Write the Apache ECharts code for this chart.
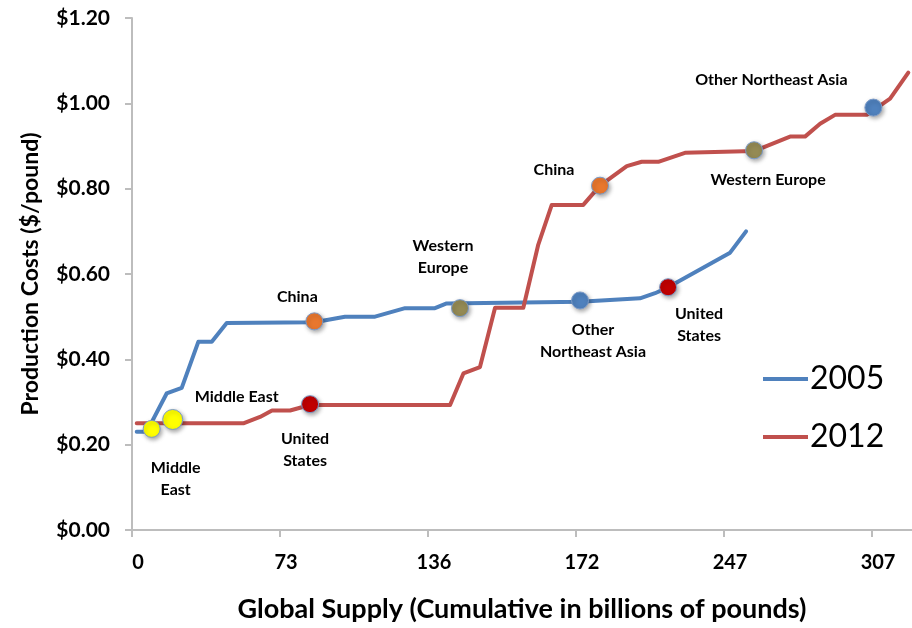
<!DOCTYPE html>
<html>
<head>
<meta charset="utf-8">
<script src="https://cdn.jsdelivr.net/npm/echarts@6/dist/echarts.min.js"></script>
<style>
  html, body { margin: 0; padding: 0; background: #ffffff; }
  #chart { width: 912px; height: 628px; }
</style>
</head>
<body>
<div id="chart"></div>
<script>
// Tick labels of the supply axis (one per tick step)
const xTickLabels = ['0', '73', '136', '172', '247', '307'];

// 2005 cost curve: position along the supply axis (tick steps) and cost ($/lb)
const pos2005  = [0.032, 0.099, 0.234, 0.336, 0.448, 0.539, 0.640, 1.232, 1.439, 1.642, 1.845, 2.047, 2.126, 3.027, 3.432, 3.534, 3.622, 4.041, 4.149];
const cost2005 = [0.230, 0.230, 0.320, 0.333, 0.441, 0.441, 0.485, 0.487, 0.500, 0.500, 0.520, 0.520, 0.531, 0.535, 0.543, 0.555, 0.569, 0.650, 0.700];

// 2012 cost curve
const pos2012  = [0.032, 0.752, 0.865, 0.946, 1.068, 1.203, 2.149, 2.239, 2.351, 2.453, 2.644, 2.745, 2.836, 3.049, 3.162, 3.343, 3.444, 3.556, 3.736, 4.203, 4.446, 4.547, 4.649, 4.750, 4.964, 5.122, 5.245];
const cost2012 = [0.250, 0.250, 0.265, 0.280, 0.280, 0.293, 0.293, 0.367, 0.382, 0.521, 0.521, 0.669, 0.762, 0.762, 0.807, 0.853, 0.863, 0.863, 0.884, 0.888, 0.922, 0.922, 0.952, 0.973, 0.973, 1.011, 1.072];

// Region markers on each curve
const regions2005     = ['Middle East', 'China', 'Western Europe', 'Other Northeast Asia', 'United States'];
const markerPos2005   = [0.133, 1.232, 2.216, 3.027, 3.622];
const markerCost2005  = [0.237, 0.489, 0.520, 0.538, 0.569];
const markerText2005  = ['Middle\nEast', 'China', 'Western\nEurope', 'Other\nNortheast Asia', 'United\nStates'];

const regions2012     = ['Middle East', 'United States', 'China', 'Western Europe', 'Other Northeast Asia'];
const markerPos2012   = [0.275, 1.203, 3.162, 4.203, 5.009];
const markerCost2012  = [0.259, 0.295, 0.807, 0.890, 0.990];
const markerText2012  = ['Middle East', 'United\nStates', 'China', 'Western Europe', 'Other Northeast Asia'];

// Styling
const regionColor = {
  'Middle East': '#FFFF00',
  'China': '#E8772E',
  'Western Europe': '#948A54',
  'Other Northeast Asia': '#4F81BD',
  'United States': '#C00000'
};
const labelOffset2005 = [[24, 50], [-17, -25], [-17, -51], [13, 40], [31, 38]];
const labelOffset2012 = [[64, -23], [-5, 46], [-46, -16], [14, 30], [-102, -28]];
const markerSize2012 = [20, 17, 17, 17, 17];

const FONT = 'Lato, "Noto Sans", sans-serif';

const markerLabelStyle = {
  show: true,
  position: 'inside',
  align: 'center',
  verticalAlign: 'middle',
  fontFamily: FONT,
  fontWeight: 700,
  fontSize: 16,
  lineHeight: 22,
  color: '#000000',
  opacity: 1,
  textBorderWidth: 0,
  textShadowBlur: 0
};

function markerData(pos, cost, regions, texts, offsets, sizes) {
  return pos.map((p, i) => ({
    value: [p, cost[i]],
    symbolSize: sizes ? sizes[i] : 17,
    itemStyle: { color: regionColor[regions[i]], opacity: 1 },
    label: Object.assign({}, markerLabelStyle, { formatter: texts[i], offset: offsets[i] })
  }));
}

const markerItemStyle = {
  opacity: 1,
  borderColor: '#7B9BC9', borderWidth: 1,
  shadowBlur: 4, shadowColor: 'rgba(0,0,0,0.35)', shadowOffsetX: 1.5, shadowOffsetY: 2
};

const chart = echarts.init(document.getElementById('chart'), null, { renderer: 'canvas' });

chart.setOption({
  animation: false,
  backgroundColor: '#ffffff',
  grid: { left: 132, right: 0, top: 18, bottom: 93, containLabel: false },
  legend: {
    orient: 'vertical',
    left: 763,
    top: 359,
    padding: 0,
    itemWidth: 45,
    itemHeight: 4,
    itemGap: 18,
    icon: 'rect',
    data: ['2005', '2012'],
    textStyle: { fontFamily: FONT, fontSize: 32, lineHeight: 40, color: '#000', padding: [0, 0, 0, -3] }
  },
  xAxis: {
    type: 'value',
    min: 0,
    max: 5.27,
    interval: 1,
    name: 'Global Supply (Cumulative in billions of pounds)',
    nameLocation: 'middle',
    nameGap: 66,
    nameTextStyle: { fontFamily: FONT, fontWeight: 'bold', fontSize: 27, color: '#000' },
    axisLine: { show: true, lineStyle: { color: '#BDBDBD', width: 2 } },
    axisTick: { show: true, length: 7, lineStyle: { color: '#BDBDBD', width: 2 } },
    splitLine: { show: false },
    axisLabel: {
      margin: 23,
      showMaxLabel: false,
      padding: [0, 0, 0, 12],
      fontFamily: FONT, fontWeight: 'bold', fontSize: 20, color: '#000',
      formatter: v => (Math.abs(v - Math.round(v)) < 1e-6 && xTickLabels[Math.round(v)] !== undefined) ? xTickLabels[Math.round(v)] : ''
    }
  },
  yAxis: {
    type: 'value',
    min: 0,
    max: 1.2,
    interval: 0.2,
    name: 'Production Costs ($/pound)',
    nameLocation: 'middle',
    nameGap: 90,
    nameTextStyle: { fontFamily: FONT, fontWeight: 'bold', fontSize: 23, color: '#000' },
    axisLine: { show: true, lineStyle: { color: '#BDBDBD', width: 2 } },
    axisTick: { show: true, length: 7, lineStyle: { color: '#BDBDBD', width: 2 } },
    splitLine: { show: false },
    axisLabel: {
      margin: 22,
      fontFamily: FONT, fontWeight: 'bold', fontSize: 21, color: '#000',
      formatter: v => '$' + v.toFixed(2)
    }
  },
  series: [
    {
      name: '2005',
      type: 'line',
      symbol: 'none',
      color: '#4F81BD',
      lineStyle: { width: 4, color: '#4F81BD', join: 'round', cap: 'round' },
      data: pos2005.map((p, i) => [p, cost2005[i]]),
      z: 2
    },
    {
      name: '2012',
      type: 'line',
      symbol: 'none',
      color: '#C0504D',
      lineStyle: { width: 4, color: '#C0504D', join: 'round', cap: 'round' },
      data: pos2012.map((p, i) => [p, cost2012[i]]),
      z: 3
    },
    {
      name: 'regions2005',
      type: 'scatter',
      symbol: 'circle',
      itemStyle: markerItemStyle,
      label: markerLabelStyle,
      emphasis: { disabled: true },
      data: markerData(markerPos2005, markerCost2005, regions2005, markerText2005, labelOffset2005),
      z: 4
    },
    {
      name: 'regions2012',
      type: 'scatter',
      symbol: 'circle',
      itemStyle: markerItemStyle,
      label: markerLabelStyle,
      emphasis: { disabled: true },
      data: markerData(markerPos2012, markerCost2012, regions2012, markerText2012, labelOffset2012, markerSize2012),
      z: 4
    }
  ]
});
</script>
</body>
</html>
